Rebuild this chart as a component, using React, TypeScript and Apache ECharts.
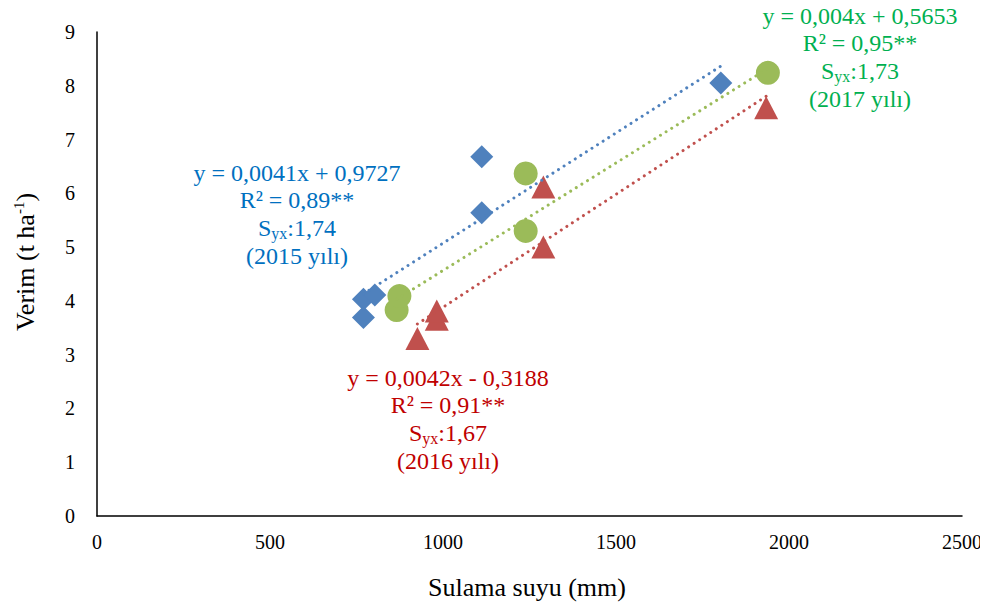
import React, { useEffect, useRef } from "react";
import * as echarts from "echarts";

// Irrigation water (mm) and yield (t/ha) per year
const irr2015 = [770, 770, 803, 1112, 1112, 1803];
const yield2015 = [3.69, 4.03, 4.11, 5.64, 6.68, 8.05];
const irr2016 = [926, 982, 982, 1290, 1290, 1934];
const yield2016 = [3.3, 3.66, 3.81, 5.0, 6.12, 7.59];
const irr2017 = [866, 874, 1239, 1239, 1939];
const yield2017 = [3.83, 4.09, 5.3, 6.37, 8.24];

// Trend line coefficients [slope, intercept] and x-extent
const trend2015 = [0.0041, 0.9727];
const trend2016 = [0.0042, -0.3188];
const trend2017 = [0.004, 0.5653];
const range2015 = [770, 1805];
const range2016 = [926, 1934];
const range2017 = [866, 1939];

const eq2015 = ["y = 0,0041x + 0,9727", "R² = 0,89**", "1,74", "(2015 yılı)"];
const eq2016 = ["y = 0,0042x - 0,3188", "R² = 0,91**", "1,67", "(2016 yılı)"];
const eq2017 = ["y = 0,004x + 0,5653", "R² = 0,95**", "1,73", "(2017 yılı)"];

const xTitle = "Sulama suyu (mm)";
const yTitle = ["Verim (t ha", "-1", ")"];

const FONT = "Liberation Serif";
const BLUE = "#4F81BD";
const RED = "#C0504D";
const GREEN = "#9BBB59";

function pts(xs: number[], ys: number[]) {
  return xs.map((x, i) => [x, ys[i]]);
}
function trendPts(c: number[], r: number[]) {
  return r.map((x) => [x, c[0] * x + c[1]]);
}

function eqText(lines: string[], x: number, y: number, color: string) {
  return {
    type: "text",
    x,
    y,
    z: 10,
    style: {
      text:
        `{m|${lines[0]}}\n{m|${lines[1]}}\n{m|S}{sub|yx}{m|:${lines[2]}}\n{m|${lines[3]}}`,
      align: "center",
      verticalAlign: "top",
      fill: color,
      fontFamily: FONT,
      rich: {
        m: { fontFamily: FONT, fontSize: 24, lineHeight: 27.6, fill: color, color },
        sub: {
          fontFamily: FONT,
          fontSize: 16,
          lineHeight: 15,
          verticalAlign: "bottom",
          fill: color,
          color,
        },
      },
    },
  };
}

function trendSeries(data: number[][], color: string) {
  return {
    type: "line",
    data,
    symbol: "none",
    z: 5,
    lineStyle: { color, width: 3, type: [0.01, 6.6], cap: "round" },
    silent: true,
  };
}

export default function App() {
  const ref = useRef<HTMLDivElement>(null);
  useEffect(() => {
    if (!ref.current) return;
    const chart = echarts.init(ref.current, undefined, { renderer: "svg" });
    chart.setOption({
      animation: false,
      backgroundColor: "#fff",
      textStyle: { fontFamily: FONT },
      grid: { left: 97, right: 26, top: 32, bottom: 96 },
      xAxis: {
        type: "value",
        min: 0,
        max: 2500,
        interval: 500,
        axisLine: { show: true, lineStyle: { color: "#000", width: 1.5 } },
        axisTick: { show: false },
        splitLine: { show: false },
        axisLabel: {
          color: "#000",
          fontFamily: FONT,
          fontSize: 20,
          margin: 16,
          formatter: (v: number) => String(v),
        },
      },
      yAxis: {
        type: "value",
        min: 0,
        max: 9,
        interval: 1,
        axisLine: { show: true, lineStyle: { color: "#000", width: 1.5 } },
        axisTick: { show: false },
        splitLine: { show: false },
        axisLabel: { color: "#000", fontFamily: FONT, fontSize: 20, margin: 22 },
      },
      series: [
        {
          type: "scatter",
          data: pts(irr2015, yield2015),
          symbol: "diamond",
          symbolSize: 23,
          itemStyle: { color: BLUE, opacity: 1 },
          z: 2,
        },
        {
          type: "scatter",
          data: pts(irr2017, yield2017),
          symbol: "circle",
          symbolSize: 24,
          itemStyle: { color: GREEN, opacity: 1 },
          z: 3,
        },
        {
          type: "scatter",
          data: pts(irr2016, yield2016),
          symbol: "triangle",
          symbolSize: [24, 23],
          itemStyle: { color: RED, opacity: 1 },
          z: 4,
        },
        trendSeries(trendPts(trend2015, range2015), BLUE),
        trendSeries(trendPts(trend2017, range2017), GREEN),
        trendSeries(trendPts(trend2016, range2016), RED),
      ],
      graphic: [
        eqText(eq2015, 297, 159, "#0070C0"),
        eqText(eq2016, 448, 364, "#C00000"),
        eqText(eq2017, 860, 2, "#00B050"),
        {
          type: "text",
          x: 527,
          y: 574,
          style: {
            text: xTitle,
            align: "center",
            verticalAlign: "top",
            fill: "#000",
            fontFamily: FONT,
            fontSize: 26,
          },
        },
        {
          type: "text",
          x: 25,
          y: 262,
          rotation: Math.PI / 2,
          style: {
            text: `{a|${yTitle[0]}}{s|${yTitle[1]}}{a|${yTitle[2]}}`,
            align: "center",
            verticalAlign: "middle",
            fill: "#000",
            fontFamily: FONT,
            fontSize: 26,
            rich: {
              a: { fontFamily: FONT, fontSize: 26, lineHeight: 28, fill: "#000", color: "#000" },
              s: {
                fontFamily: FONT,
                fontSize: 15,
                lineHeight: 17,
                verticalAlign: "top",
                fill: "#000",
                color: "#000",
              },
            },
          },
        },
      ],
    });
    return () => chart.dispose();
  }, []);
  return (
    <div
      ref={ref}
      style={{ width: 988, height: 612, margin: -8, fontFamily: FONT }}
    />
  );
}
